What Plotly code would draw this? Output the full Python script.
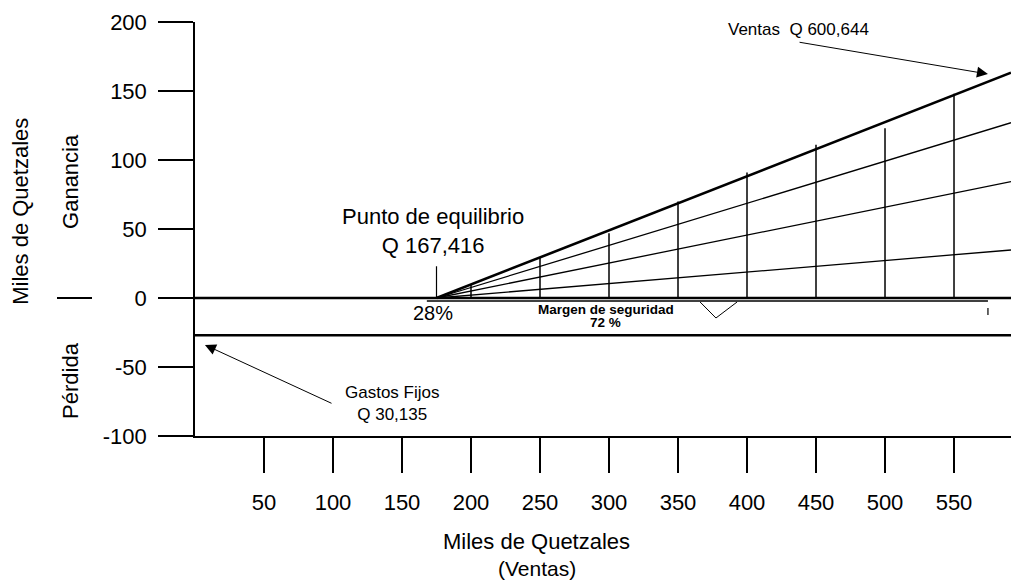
import plotly.graph_objects as go

# ---------------- data ----------------
x_tick_vals = [50, 100, 150, 200, 250, 300, 350, 400, 450, 500, 550]
x_tick_text = ["50", "100", "150", "200", "250", "300", "350", "400", "450", "500", "550"]
y_tick_vals = [-100, -50, 0, 50, 100, 150, 200]
y_tick_text = ["-100", "-50", "0", "50", "100", "150", "200"]

x_max = 591.3                     # right end of the drawing (thousands Q)
y_min, y_max = -100, 200
break_even_x = 175                # drawn break-even position
break_even_marker_top = 23
fan_end_values = [163.3, 127, 84.3, 34.8]   # fan lines at right edge (first = Ventas)
vert_x = [200, 250, 300, 350, 400, 450, 500, 550]
vert_top = [10, 29, 47, 70, 91, 111, 123, 148]
fixed_cost_level = -27
margin_line_x = [168, 574.6]
margin_line_y = -2.2
margin_end_tick_y = [-7.2, -12.3]
v_mark_x = [366, 377.5, 392.8]
v_mark_y = [-2.9, -14.5, -2.9]

FONT = "Arial, 'Liberation Sans', Helvetica, sans-serif"
BLACK = "#000000"

fig = go.Figure()

def seg(xs, ys, w):
    fig.add_trace(go.Scatter(x=xs, y=ys, mode="lines",
                             line=dict(color=BLACK, width=w),
                             hoverinfo="skip", showlegend=False))

# zero line and fixed-cost line
seg([0, x_max], [0, 0], 2.5)
seg([0, x_max], [fixed_cost_level, fixed_cost_level], 2.5)
# safety-margin bracket line
seg(margin_line_x, [margin_line_y, margin_line_y], 1.5)
seg([margin_line_x[1], margin_line_x[1]], margin_end_tick_y, 1.2)
seg(v_mark_x, v_mark_y, 1.0)
# break-even marker
seg([break_even_x, break_even_x], [0, break_even_marker_top], 1.2)

# vertical lines
vx, vy = [], []
for x, t in zip(vert_x, vert_top):
    vx += [x, x, None]
    vy += [0, t, None]
seg(vx, vy, 1.5)

# fan lines from break-even point
for i, v in enumerate(fan_end_values):
    seg([break_even_x, x_max], [0, v], 2.6 if i == 0 else 1.3)

axis_common = dict(showgrid=False, zeroline=False, showline=True,
                   linecolor=BLACK, linewidth=1.5, ticks="outside",
                   ticklen=35, tickwidth=1.5, tickcolor=BLACK,
                   tickfont=dict(family=FONT, size=22, color=BLACK),
                   fixedrange=True)

fig.update_layout(
    width=1011, height=582,
    margin=dict(l=195, r=0, t=22, b=146, pad=0),
    paper_bgcolor="white", plot_bgcolor="white",
    showlegend=False,
    font=dict(family=FONT, color=BLACK),
    xaxis=dict(range=[0, x_max], tickvals=x_tick_vals, ticktext=x_tick_text,
               ticklabelstandoff=11, **axis_common),
    yaxis=dict(range=[y_min, y_max], tickvals=y_tick_vals, ticktext=y_tick_text,
               ticklabelstandoff=7, **axis_common),
)

def px_x(v):
    return v / x_max

def px_y(v):
    return (v - y_min) / (y_max - y_min)

def txt(x, y, s, size, bold=False, angle=0):
    # positions given in data units, placed in paper coords so they are never hidden
    fig.add_annotation(x=px_x(x) if not isinstance(x, tuple) else x[0],
                       y=px_y(y), xref="paper", yref="paper",
                       text=(f"<b>{s}</b>" if bold else s),
                       showarrow=False, textangle=angle,
                       font=dict(family=FONT, size=size, color=BLACK),
                       xanchor="center", yanchor="middle")

txt(172.5, 48.3, "Punto de equilibrio<br>Q 167,416", 22)
txt(437.3, 194.7, "Ventas\u00a0\u00a0Q 600,644", 17)
txt(142.8, -76.8, "Gastos Fijos<br>Q 30,135", 17)
txt(172.5, -10.9, "28%", 20)
txt(297.8, -8, "Margen de seguridad", 13.5, bold=True)
txt(297.3, -18, "72 %", 13.5, bold=True)
txt(247.8, -176.3, "Miles de Quetzales", 22)
txt(247.8, -196.3, "(Ventas)", 21)
txt((-0.2132,), 62.5, "Miles de Quetzales", 22, angle=-90)
txt((-0.152,), 84.8, "Ganancia", 22, angle=-90)
txt((-0.152,), -59.4, "Pérdida", 22, angle=-90)

# arrows
fig.add_annotation(x=574.6, y=162.3, ax=437, ay=185.5, xref="x", yref="y",
                   axref="x", ayref="y", text="", showarrow=True,
                   arrowhead=2, arrowsize=2.2, arrowwidth=1, arrowcolor=BLACK)
fig.add_annotation(x=7.2, y=-34, ax=100, ay=-76.8, xref="x", yref="y",
                   axref="x", ayref="y", text="", showarrow=True,
                   arrowhead=2, arrowsize=2.2, arrowwidth=1, arrowcolor=BLACK)

# short dash at the left beside the zero level
fig.add_shape(type="line", xref="paper", yref="paper",
              x0=(57 - 195) / 816, x1=(92 - 195) / 816,
              y0=px_y(0), y1=px_y(0),
              line=dict(color=BLACK, width=2))

fig.write_html("out.html", config={"displayModeBar": False},
               post_script="document.body.style.margin='0';document.body.style.overflow='hidden';")
